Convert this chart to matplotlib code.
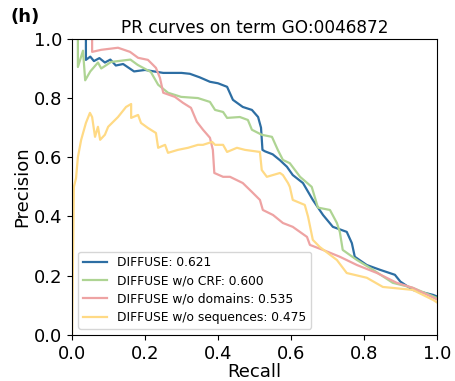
import matplotlib
matplotlib.use("Agg")
import matplotlib.pyplot as plt

labels = ["DIFFUSE: 0.621", "DIFFUSE w/o CRF: 0.600",
          "DIFFUSE w/o domains: 0.535", "DIFFUSE w/o sequences: 0.475"]
colors = ["#2d6ea3", "#aed493", "#eea3a3", "#ffda85"]

blue_r = [0.0, 0.038, 0.038, 0.05, 0.06, 0.075, 0.09, 0.105, 0.12, 0.14, 0.17, 0.2, 0.25, 0.3, 0.323, 0.35,
          0.378, 0.4, 0.425, 0.441, 0.468, 0.493, 0.51, 0.518, 0.522, 0.529, 0.55, 0.57, 0.589, 0.605, 0.633,
          0.66, 0.688, 0.715, 0.753, 0.767, 0.775, 0.808, 0.844, 0.885, 0.9, 0.934, 0.99, 1.0]
blue_p = [1.0, 1.0, 0.929, 0.94, 0.925, 0.935, 0.92, 0.93, 0.91, 0.915, 0.89, 0.895, 0.885, 0.885, 0.882, 0.87,
          0.855, 0.85, 0.838, 0.794, 0.77, 0.76, 0.736, 0.70, 0.625, 0.62, 0.61, 0.59, 0.568, 0.54, 0.513,
          0.456, 0.405, 0.365, 0.348, 0.31, 0.264, 0.236, 0.22, 0.203, 0.18, 0.152, 0.135, 0.13]

green_r = [0.0, 0.016, 0.016, 0.03, 0.036, 0.05, 0.071, 0.08, 0.107, 0.16, 0.18, 0.216, 0.236, 0.263, 0.299,
           0.345, 0.378, 0.392, 0.414, 0.425, 0.46, 0.482, 0.493, 0.52, 0.548, 0.564, 0.578, 0.597, 0.625,
           0.657, 0.674, 0.707, 0.726, 0.734, 0.742, 0.781, 0.825, 0.879, 0.934, 1.0]
green_p = [1.0, 1.0, 0.905, 0.96, 0.86, 0.89, 0.92, 0.90, 0.922, 0.93, 0.912, 0.888, 0.845, 0.818, 0.804,
           0.80, 0.787, 0.76, 0.753, 0.733, 0.736, 0.726, 0.693, 0.676, 0.669, 0.625, 0.591, 0.58, 0.534,
           0.50, 0.43, 0.422, 0.378, 0.348, 0.287, 0.253, 0.22, 0.176, 0.159, 0.125]

pink_r = [0.0, 0.055, 0.055, 0.08, 0.126, 0.159, 0.181, 0.208, 0.222, 0.23, 0.241, 0.25, 0.282, 0.304,
          0.326, 0.342, 0.359, 0.378, 0.386, 0.39, 0.414, 0.433, 0.468, 0.493, 0.515, 0.523, 0.551,
          0.578, 0.605, 0.644, 0.652, 0.688, 0.734, 0.781, 0.836, 0.89, 0.934, 1.0]
pink_p = [1.0, 1.0, 0.956, 0.963, 0.97, 0.956, 0.936, 0.929, 0.912, 0.902, 0.868, 0.818, 0.804, 0.784,
          0.767, 0.72, 0.693, 0.666, 0.625, 0.547, 0.534, 0.534, 0.513, 0.483, 0.456, 0.422, 0.405,
          0.378, 0.365, 0.331, 0.304, 0.287, 0.264, 0.236, 0.209, 0.176, 0.159, 0.12]

yellow_r = [0.0, 0.003, 0.005, 0.011, 0.016, 0.025, 0.038, 0.049, 0.055, 0.063, 0.071, 0.077, 0.09, 0.099,
            0.126, 0.148, 0.162, 0.162, 0.181, 0.189, 0.208, 0.23, 0.236, 0.255, 0.263, 0.29, 0.318,
            0.345, 0.359, 0.384, 0.392, 0.414, 0.425, 0.452, 0.474, 0.515, 0.52, 0.534, 0.57, 0.578,
            0.592, 0.597, 0.605, 0.638, 0.647, 0.66, 0.679, 0.726, 0.753, 0.808, 0.852, 0.934, 0.99, 1.0]
yellow_p = [0.0, 0.297, 0.5, 0.53, 0.60, 0.659, 0.716, 0.75, 0.736, 0.669, 0.703, 0.659, 0.676, 0.703,
            0.736, 0.77, 0.78, 0.733, 0.743, 0.716, 0.699, 0.682, 0.632, 0.642, 0.615, 0.625, 0.632,
            0.642, 0.642, 0.652, 0.642, 0.642, 0.618, 0.632, 0.625, 0.618, 0.557, 0.534, 0.547, 0.54,
            0.513, 0.50, 0.456, 0.439, 0.399, 0.321, 0.297, 0.253, 0.209, 0.193, 0.162, 0.152, 0.118, 0.11]

fig = plt.figure(figsize=(4.56, 3.81), dpi=100)
ax = fig.add_axes([0.158, 0.121, 0.800, 0.777])

series = [(blue_r, blue_p), (green_r, green_p), (pink_r, pink_p), (yellow_r, yellow_p)]
for (r, p), lab, c in zip(series, labels, colors):
    ax.plot(r, p, color=c, lw=1.6, label=lab)

ax.set_xlim(0, 1)
ax.set_ylim(0, 1)
ax.set_xticks([0, 0.2, 0.4, 0.6, 0.8, 1.0])
ax.set_yticks([0, 0.2, 0.4, 0.6, 0.8, 1.0])
ax.tick_params(labelsize=13)
ax.set_xlabel("Recall", fontsize=13, labelpad=0)
ax.set_ylabel("Precision", fontsize=13, labelpad=2)
ax.set_title("PR curves on term GO:0046872", fontsize=12.2, pad=4)
ax.legend(loc="lower left", fontsize=8.8, frameon=True, handlelength=2.0, labelspacing=0.42)
fig.text(0.022, 0.955, "(h)", fontsize=13, fontweight="bold", ha="left", va="center")

fig.savefig("out.png", dpi=100)
